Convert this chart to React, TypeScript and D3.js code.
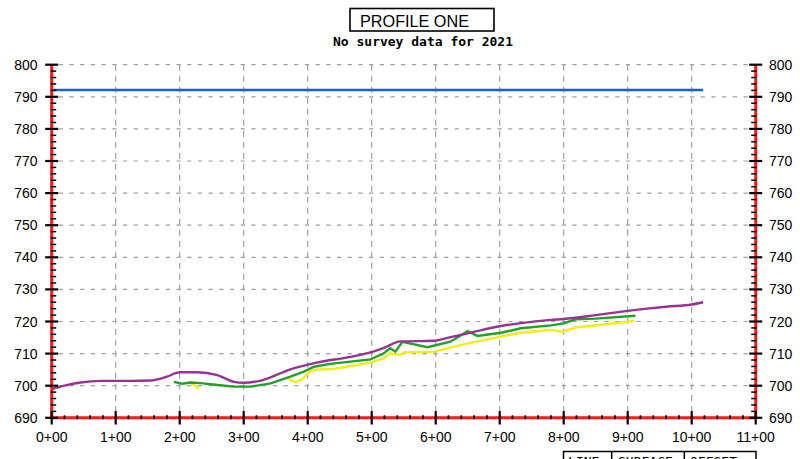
import React from "react";
import * as d3 from "d3";

const W = 800;
const H = 459;

const xTicks = [0, 1, 2, 3, 4, 5, 6, 7, 8, 9, 10, 11];
const xTickLabels = ["0+00", "1+00", "2+00", "3+00", "4+00", "5+00", "6+00", "7+00", "8+00", "9+00", "10+00", "11+00"];
const yTicks = [690, 700, 710, 720, 730, 740, 750, 760, 770, 780, 790, 800];

const titleText = "PROFILE ONE";
const subtitleText = "No survey data for 2021";
const legendHeaders = ["LINE", "SURFACE", "OFFSET"];

// Design elevation (blue)
const blueStations = [0, 10.18];
const blueValues = [792.1, 792.1];

// Purple profile
const purpleStations = [0.0, 0.2, 0.45, 0.77, 1.2, 1.55, 1.8, 2.0, 2.27, 2.59, 2.85, 3.0, 3.27, 3.73, 4.14, 4.67, 4.98, 5.19, 5.45, 5.97, 6.2, 6.5, 7.02, 7.33, 7.8, 8.0, 8.5, 9.0, 9.3, 9.6, 10.0, 10.18];
const purpleValues = [698.9, 700.0, 701.0, 701.5, 701.5, 701.6, 702.8, 704.2, 704.2, 703.3, 701.2, 700.9, 701.6, 705.1, 707.2, 709.0, 710.4, 711.8, 713.8, 714.0, 715.0, 716.3, 718.6, 719.5, 720.5, 720.8, 722.0, 723.3, 724.0, 724.6, 725.3, 726.0];

// Green profile
const greenStations = [1.91, 2.04, 2.17, 2.33, 2.59, 2.85, 3.11, 3.42, 3.73, 3.94, 4.1, 4.35, 4.98, 5.19, 5.29, 5.37, 5.48, 5.87, 6.23, 6.5, 6.65, 7.02, 7.33, 7.8, 8.0, 8.19, 8.5, 9.12];
const greenValues = [701.2, 700.6, 701.0, 700.8, 700.2, 699.7, 699.7, 700.7, 702.8, 704.4, 705.9, 706.8, 708.2, 710.1, 711.7, 710.6, 713.7, 712.0, 713.7, 717.0, 715.5, 716.5, 717.9, 718.8, 719.4, 720.7, 720.9, 721.8];

// Yellow profile (two pieces)
const yellowStationsA = [2.12, 2.2, 2.3];
const yellowValuesA = [701.2, 700.6, 699.2];
const yellowStationsB = [3.7, 3.81, 3.9, 4.04, 4.12, 4.4, 4.98, 5.19, 5.28, 5.45, 5.5, 5.97, 6.5, 7.02, 7.33, 7.8, 7.98, 8.2, 8.6, 9.1];
const yellowValuesB = [702.0, 701.2, 701.9, 704.4, 705.0, 705.2, 707.2, 708.5, 710.1, 709.6, 710.4, 710.6, 713.2, 715.3, 716.5, 717.4, 716.8, 718.2, 719.0, 720.2];

const zip = (xs: number[], ys: number[]) => xs.map((s, i) => [s, ys[i]] as [number, number]);

export default function App() {
  const x = d3.scaleLinear().domain([0, 11]).range([51.7, 755.7]);
  const y = d3.scaleLinear().domain([690, 800]).range([417.8, 64.7]);
  const line = d3
    .line<[number, number]>()
    .x((d) => x(d[0]))
    .y((d) => y(d[1]));
  const smooth = d3
    .line<[number, number]>()
    .x((d) => x(d[0]))
    .y((d) => y(d[1]))
    .curve(d3.curveMonotoneX);

  const x0 = x(0);
  const x1 = x(11);
  const yb = y(690);
  const yt = y(800);

  const minorY = d3.range(690, 800.01, 2).filter((v) => v % 10 !== 0);
  const minorX = d3.range(0, 11.001, 0.2).filter((v) => Math.abs(v - Math.round(v)) > 0.01);

  const labelFont = "'Liberation Sans', Arial, sans-serif";
  const monoFont = "'DejaVu Sans Mono', 'Liberation Mono', monospace";

  return (
    <svg width={W} height={H} style={{ position: "absolute", left: 0, top: 0, background: "#fff" }}>
      <rect x={0} y={0} width={W} height={H} fill="#fff" />
      {/* Title */}
      <rect x={350} y={8.5} width={144} height={22.5} fill="none" stroke="#000" strokeWidth={1.6} />
      <text x={360} y={26.5} fontFamily={labelFont} fontSize={16.5} fill="#000" textLength={109} lengthAdjust="spacingAndGlyphs">
        {titleText}
      </text>
      <text x={423} y={45.5} textAnchor="middle" fontFamily={monoFont} fontWeight="bold" fontSize={12} textLength={180} lengthAdjust="spacingAndGlyphs" fill="#000">
        {subtitleText}
      </text>

      {/* Grid */}
      {yTicks.filter((v) => v !== 690).map((v) => (
        <line key={"gy" + v} x1={x0 + 7} x2={x1} y1={y(v)} y2={y(v)} stroke="#a0a0a0" strokeWidth={1.2} strokeDasharray="4.3,6.4" />
      ))}
      {xTicks.filter((v) => v !== 0 && v !== 11).map((v) => (
        <line key={"gx" + v} x1={x(v)} x2={x(v)} y1={yt} y2={yb} stroke="#a0a0a0" strokeWidth={1.2} strokeDasharray="6,5" />
      ))}

      {/* Data lines */}
      <path d={line(zip(blueStations, blueValues)) || ""} fill="none" stroke="#1f5fbf" strokeWidth={2.6} />
      <path d={line(zip(yellowStationsA, yellowValuesA)) || ""} fill="none" stroke="#f2ee12" strokeWidth={2.4} />
      <path d={line(zip(yellowStationsB, yellowValuesB)) || ""} fill="none" stroke="#f2ee12" strokeWidth={2.4} />
      <path d={line(zip(greenStations, greenValues)) || ""} fill="none" stroke="#21a12b" strokeWidth={2.4} />
      <path d={smooth(zip(purpleStations, purpleValues)) || ""} fill="none" stroke="#983393" strokeWidth={2.4} />

      {/* Axes (red) */}
      <line x1={x0} x2={x0} y1={yt} y2={yb} stroke="#ff1a1a" strokeWidth={3} />
      <line x1={x1} x2={x1} y1={yt} y2={yb} stroke="#ff1a1a" strokeWidth={3} />
      <line x1={x0} x2={x1} y1={yb} y2={yb} stroke="#ff1a1a" strokeWidth={3} />

      {/* Minor ticks */}
      {minorY.map((v) => (
        <g key={"my" + v}>
          <line x1={x0 - 1} x2={x0 + 4.5} y1={y(v)} y2={y(v)} stroke="#000" strokeWidth={1.5} />
          <line x1={x1 - 4.5} x2={x1 + 1} y1={y(v)} y2={y(v)} stroke="#000" strokeWidth={1.5} />
        </g>
      ))}
      {minorX.map((v) => (
        <line key={"mx" + v} x1={x(v)} x2={x(v)} y1={yb - 2.5} y2={yb + 1.5} stroke="#000" strokeWidth={1.8} />
      ))}

      {/* Major ticks */}
      {yTicks.map((v) => (
        <g key={"My" + v}>
          <line x1={x0 - 6.5} x2={x0 + 6.5} y1={y(v)} y2={y(v)} stroke="#000" strokeWidth={2.2} />
          <line x1={x1 - 6.5} x2={x1 + 6.5} y1={y(v)} y2={y(v)} stroke="#000" strokeWidth={2.2} />
          <text x={37.5} y={y(v)} dy="0.36em" textAnchor="end" fontFamily={labelFont} fontSize={14} fill="#000">
            {v}
          </text>
          <text x={769} y={y(v)} dy="0.36em" textAnchor="start" fontFamily={labelFont} fontSize={14} fill="#000">
            {v}
          </text>
        </g>
      ))}
      {xTicks.map((v, i) => (
        <g key={"Mx" + v}>
          <line x1={x(v)} x2={x(v)} y1={yb - 6.7} y2={yb + 6.7} stroke="#000" strokeWidth={2.2} />
          <text x={x(v)} y={442} textAnchor="middle" fontFamily={labelFont} fontSize={14} fill="#000">
            {xTickLabels[i]}
          </text>
        </g>
      ))}

      {/* Legend table (cut at bottom, as in the reference) */}
      <rect x={563.5} y={451.5} width={192.5} height={30} fill="none" stroke="#000" strokeWidth={1.5} />
      <line x1={611.7} x2={611.7} y1={451.5} y2={481} stroke="#000" strokeWidth={1.5} />
      <line x1={684.3} x2={684.3} y1={451.5} y2={481} stroke="#000" strokeWidth={1.5} />
      <text x={568} y={465.5} fontFamily={monoFont} fontSize={13} fill="#000">{legendHeaders[0]}</text>
      <text x={618} y={465.5} fontFamily={monoFont} fontSize={13} fill="#000">{legendHeaders[1]}</text>
      <text x={690} y={465.5} fontFamily={monoFont} fontSize={13} fill="#000">{legendHeaders[2]}</text>
    </svg>
  );
}
